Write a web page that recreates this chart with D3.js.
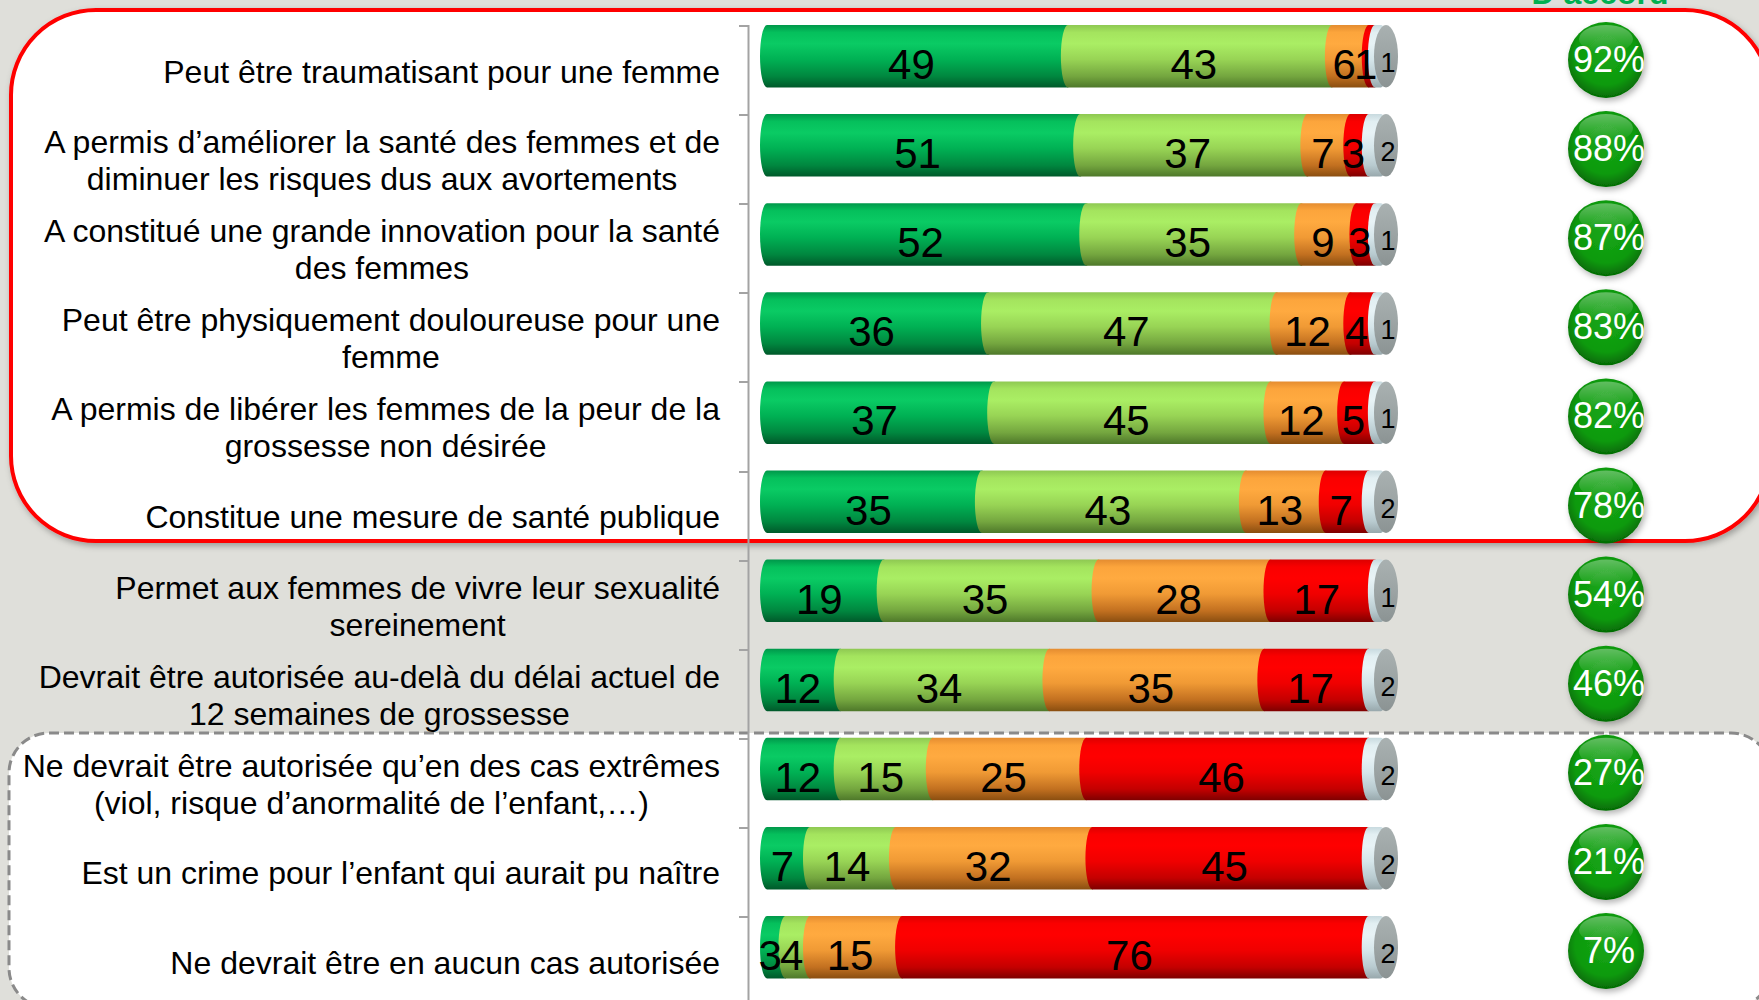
<!DOCTYPE html>
<html lang="fr">

<head>
	<meta charset="utf-8">
	<title>IVG - opinions</title>
	<script src="https://cdn.jsdelivr.net/npm/d3@7"></script>
	<style>
		body {
			margin: 0px;
			padding: 0px;
			background-color: #dfdfda;
			overflow: hidden;
		}

		text {
			font-family: "Liberation Sans", Arial, Helvetica, sans-serif;
		}

		.label {
			font-size: 32px;
			fill: #000;
		}

		.value {
			font-size: 42px;
			fill: #000;
			text-anchor: middle;
		}

		.value.nsp {
			font-size: 27px;
		}

		.pct {
			font-size: 36px;
			fill: #fff;
			text-anchor: middle;
		}
	</style>
</head>

<body>
	<div id="chart"></div>
	<script>

		// Data
		var labels = [
			["Peut être traumatisant pour une femme"],
			["A permis d’améliorer la santé des femmes et de", "diminuer les risques dus aux avortements"],
			["A constitué une grande innovation pour la santé", "des femmes"],
			["Peut être physiquement douloureuse pour une", "femme"],
			["A permis de libérer les femmes de la peur de la", "grossesse non désirée"],
			["Constitue une mesure de santé publique"],
			["Permet aux femmes de vivre leur sexualité", "sereinement"],
			["Devrait être autorisée au-delà du délai actuel de", "12 semaines de grossesse"],
			["Ne devrait être autorisée qu’en des cas extrêmes", "(viol, risque d’anormalité de l’enfant,…)"],
			["Est un crime pour l’enfant qui aurait pu naître"],
			["Ne devrait être en aucun cas autorisée"]
		];
		var tout_a_fait = [49, 51, 52, 36, 37, 35, 19, 12, 12, 7, 3];
		var plutot = [43, 37, 35, 47, 45, 43, 35, 34, 15, 14, 4];
		var plutot_pas = [6, 7, 9, 12, 12, 13, 28, 35, 25, 32, 15];
		var pas_du_tout = [1, 3, 3, 4, 5, 7, 17, 17, 46, 45, 76];
		var nsp = [1, 2, 1, 1, 1, 2, 1, 2, 2, 2, 2];
		var total_accord = [92, 88, 87, 83, 82, 78, 54, 46, 27, 21, 7];
		var keys = ["tout_a_fait", "plutot", "plutot_pas", "pas_du_tout", "nsp"];

		// Colors (vertical gradient stops, like a cylinder)
		var gradients = {
			tout_a_fait: ["#00974a", "#05c05c", "#0acb64", "#00b154", "#00873f", "#00592a"],
			plutot: ["#8ec852", "#a4e45e", "#aaee64", "#98d455", "#74a63f", "#4e782a"],
			plutot_pas: ["#e48c30", "#fca53c", "#ffaa40", "#f09a35", "#c27020", "#8a4e10"],
			pas_du_tout: ["#dc0000", "#fa0000", "#ff0000", "#f00000", "#c40000", "#7e0000"],
			nsp: ["#c8dadf", "#e2eff2", "#e8f3f6", "#d6e6ea", "#b8cacf", "#98a8ac"]
		};
		var stopOffsets = [0, 0.12, 0.3, 0.55, 0.82, 1];

		var width = 1759,
			height = 1000;

		var table = labels.map(function (d, i) {
			return {
				i: i,
				tout_a_fait: tout_a_fait[i],
				plutot: plutot[i],
				plutot_pas: plutot_pas[i],
				pas_du_tout: pas_du_tout[i],
				nsp: nsp[i],
				total: total_accord[i]
			};
		});

		var svg = d3.select("#chart").append("svg")
			.attr("width", width)
			.attr("height", height);

		// defs: gradients and shadows
		{
			var defs = svg.append("defs");

			keys.forEach(function (k) {
				var g = defs.append("linearGradient")
					.attr("id", "grad_" + k)
					.attr("x1", 0).attr("y1", 0).attr("x2", 0).attr("y2", 1);
				gradients[k].forEach(function (c, j) {
					g.append("stop").attr("offset", stopOffsets[j]).attr("stop-color", c);
				});
			});

			var face = defs.append("linearGradient")
				.attr("id", "grad_face")
				.attr("x1", 0).attr("y1", 0).attr("x2", 0).attr("y2", 1);
			face.append("stop").attr("offset", 0).attr("stop-color", "#a9b1b1");
			face.append("stop").attr("offset", 0.5).attr("stop-color", "#9ca4a4");
			face.append("stop").attr("offset", 1).attr("stop-color", "#8b9393");

			var bubble = defs.append("radialGradient")
				.attr("id", "grad_bubble")
				.attr("cx", "50%").attr("cy", "42%").attr("r", "58%");
			bubble.append("stop").attr("offset", 0).attr("stop-color", "#16a616");
			bubble.append("stop").attr("offset", 0.7).attr("stop-color", "#0e9a0e");
			bubble.append("stop").attr("offset", 1).attr("stop-color", "#056a05");

			var shine = defs.append("linearGradient")
				.attr("id", "grad_shine")
				.attr("x1", 0).attr("y1", 0).attr("x2", 0).attr("y2", 1);
			shine.append("stop").attr("offset", 0).attr("stop-color", "#fff").attr("stop-opacity", 0.35);
			shine.append("stop").attr("offset", 1).attr("stop-color", "#fff").attr("stop-opacity", 0);

			defs.append("filter").attr("id", "shadow")
				.attr("x", "-10%").attr("y", "-10%").attr("width", "130%").attr("height", "130%")
				.append("feDropShadow")
				.attr("dx", 2).attr("dy", 3).attr("stdDeviation", 3)
				.attr("flood-color", "#000").attr("flood-opacity", 0.3);
		}

		// Boxes behind the chart
		{
			svg.append("rect")
				.attr("x", 9).attr("y", 733)
				.attr("width", 1762).attr("height", 275)
				.attr("rx", 40).attr("ry", 40)
				.attr("fill", "#fff")
				.attr("stroke", "#8a8a8a")
				.attr("stroke-width", 3)
				.attr("stroke-dasharray", "10,5");

			svg.append("rect")
				.attr("x", 11).attr("y", 10)
				.attr("width", 1759).attr("height", 531)
				.attr("rx", 85).attr("ry", 85)
				.attr("fill", "#fff")
				.attr("stroke", "#ff0000")
				.attr("stroke-width", 4)
				.attr("filter", "url(#shadow)");

			// title above the bubbles, cut by the top edge as in the slide
			svg.append("text")
				.attr("x", 1600).attr("y", 4)
				.attr("text-anchor", "middle")
				.style("font-size", "32px")
				.style("font-weight", "bold")
				.attr("fill", "#00b050")
				.text("D’accord");
		}

		// Scales
		var y = d3.scaleBand()
			.domain(table.map(function (d) { return d.i; }))
			.range([25, 25 + 11 * 89.1])
			.padding(0);

		var x = d3.scaleLinear()
			.domain([0, 100])
			.range([767, 1381]);

		var barH = 62.5;

		// Axis
		{
			svg.append("line")
				.attr("x1", 748.5).attr("x2", 748.5)
				.attr("y1", y(0)).attr("y2", height)
				.attr("stroke", "#a3a3a3").attr("stroke-width", 2);

			svg.selectAll("line.tick")
				.data(table)
				.enter().append("line")
				.attr("class", "tick")
				.attr("x1", 739).attr("x2", 749)
				.attr("y1", function (d) { return Math.round(y(d.i)) + 1; })
				.attr("y2", function (d) { return Math.round(y(d.i)) + 1; })
				.attr("stroke", "#a3a3a3").attr("stroke-width", 2);
		}

		// Category labels (lines centered together, block right aligned)
		{
			var lineH = 37;
			var labelRight = 720;

			var lab = svg.selectAll("text.label")
				.data(table)
				.enter().append("text")
				.attr("class", "label");

			lab.each(function (d) {
				var t = d3.select(this);
				var lines = labels[d.i];
				var mid = y(d.i) + y.bandwidth() / 2 + 2;
				var first = mid - (lines.length - 1) * lineH / 2 + 11;
				lines.forEach(function (l, j) {
					t.append("tspan")
						.attr("y", first + j * lineH)
						.text(l);
				});
				var maxW = 0;
				t.selectAll("tspan").each(function () {
					maxW = Math.max(maxW, this.getComputedTextLength());
				});
				t.selectAll("tspan")
					.attr("x", labelRight - maxW / 2)
					.attr("text-anchor", "middle");
			});
		}

		// Stacked cylinders
		function segPath(x0, x1, y0, h, rx) {
			var ry = h / 2, y1 = y0 + h;
			return "M" + x0 + "," + y0 + "L" + x1 + "," + y0 +
				"A" + rx + "," + ry + " 0 0 1 " + x1 + "," + y1 +
				"L" + x0 + "," + y1 +
				"A" + rx + "," + ry + " 0 0 1 " + x0 + "," + y0 + "Z";
		}

		var stack = d3.stack().keys(keys)(table);

		{
			var rows = svg.selectAll("g.row")
				.data(table)
				.enter().append("g")
				.attr("class", "row");

			// segments drawn left to right, each one covering the previous end
			stack.forEach(function (layer) {
				rows.append("path")
					.attr("d", function (d) {
						var s = layer[d.i];
						return segPath(x(s[0]), x(s[1]), y(d.i), barH, 7);
					})
					.attr("fill", "url(#grad_" + layer.key + ")");
			});

			// end face of the cylinder
			rows.append("ellipse")
				.attr("cx", x(100) + 5)
				.attr("cy", function (d) { return y(d.i) + barH / 2; })
				.attr("rx", 12)
				.attr("ry", barH / 2)
				.attr("fill", "url(#grad_face)");

			// value labels sit a little left of the segment middle
			stack.forEach(function (layer) {
				rows.append("text")
					.attr("class", layer.key == "nsp" ? "value nsp" : "value")
					.attr("x", function (d) {
						var s = layer[d.i];
						if (layer.key == "nsp") return x(100) + 7;
						return (x(s[0]) + x(s[1])) / 2 - 6;
					})
					.attr("y", function (d) {
						return y(d.i) + (layer.key == "nsp" ? 47 : 54);
					})
					.text(function (d) { return d[layer.key]; });
			});
		}

		// Total "D'accord" bubbles
		{
			var bx = 1606;
			var bub = svg.selectAll("g.bubble")
				.data(table)
				.enter().append("g")
				.attr("class", "bubble");

			bub.append("circle")
				.attr("cx", bx)
				.attr("cy", function (d) { return y(d.i) + 35; })
				.attr("r", 38)
				.attr("fill", "url(#grad_bubble)")
				.attr("filter", "url(#shadow)");

			bub.append("ellipse")
				.attr("cx", bx)
				.attr("cy", function (d) { return y(d.i) + 14; })
				.attr("rx", 27)
				.attr("ry", 14)
				.attr("fill", "url(#grad_shine)");

			bub.append("text")
				.attr("class", "pct")
				.attr("x", bx + 3)
				.attr("y", function (d) { return y(d.i) + 47; })
				.text(function (d) { return d.total + "%"; });
		}

	</script>
</body>

</html>
